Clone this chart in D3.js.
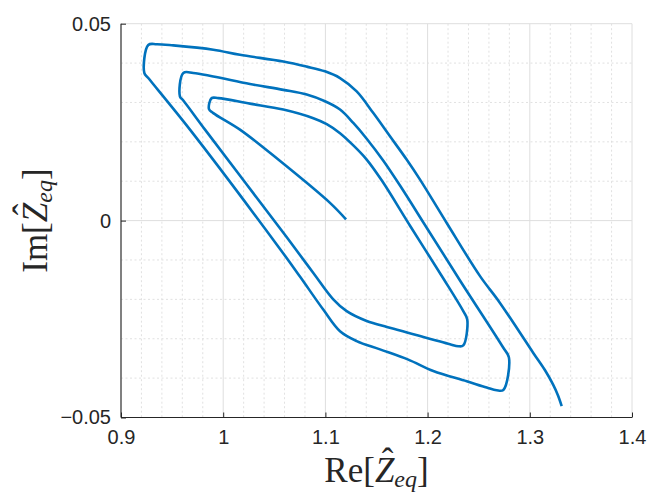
<!DOCTYPE html>
<html>
<head>
<meta charset="utf-8">
<script src="https://cdn.jsdelivr.net/npm/d3@7"></script>
<style>
  html, body { margin: 0; padding: 0; background: #fff; }
  svg { display: block; }
</style>
</head>
<body>
<svg id="chart" width="648" height="492"></svg>
<script>
// ---- data ----
const reZ = [1.1202, 1.1045, 1.0539, 1.0164, 0.9903, 0.9861, 0.9887, 0.9952, 1.0262, 1.0588,
  1.0882, 1.1013, 1.1143, 1.1273, 1.1404, 1.1554, 1.1828, 1.2154, 1.2349, 1.2388,
  1.2349, 1.2300, 1.2219, 1.1730, 1.1600, 1.1404, 1.1208, 1.1077, 1.0882, 1.0624,
  0.9822, 0.9610, 0.9577, 0.9610, 0.9707, 0.9903, 1.0262, 1.0588, 1.0817,
  1.0996, 1.1143, 1.1273, 1.1404, 1.1567, 1.1730, 1.1991, 1.2317, 1.2741, 1.2796,
  1.2741, 1.2676, 1.2578, 1.2383, 1.2056, 1.1811, 1.1534, 1.1306, 1.1143, 1.0979,
  1.0751, 1.0556, 0.9675, 0.9267, 0.9228, 0.9267, 0.9349, 0.9512, 0.9903,
  1.0164, 1.0588, 1.0817, 1.0996, 1.1143, 1.1306, 1.1469, 1.1632, 1.1795, 1.1926,
  1.2187, 1.2513, 1.2708, 1.3034, 1.3149, 1.3227, 1.3276, 1.3312];
const imZ = [0.0003, 0.0045, 0.0155, 0.0231, 0.0273, 0.0283, 0.0311, 0.0311, 0.0297, 0.0282,
  0.0260, 0.0245, 0.0222, 0.0191, 0.0155, 0.0101, -0.0013, -0.0147, -0.0230, -0.0251,
  -0.0317, -0.0319, -0.0314, -0.0279, -0.0270, -0.0255, -0.0230, -0.0200, -0.0133, -0.0043,
  0.0231, 0.0305, 0.0315, 0.0375, 0.0375, 0.0366, 0.0347, 0.0332, 0.0320,
  0.0303, 0.0282, 0.0248, 0.0208, 0.0152, 0.0089, -0.0018, -0.0152, -0.0323, -0.0348,
  -0.0430, -0.0431, -0.0424, -0.0408, -0.0382, -0.0353, -0.0327, -0.0306, -0.0281, -0.0226,
  -0.0142, -0.0072, 0.0231, 0.0362, 0.0375, 0.0446, 0.0448, 0.0445, 0.0434,
  0.0421, 0.0404, 0.0391, 0.0379, 0.0362, 0.0328, 0.0273, 0.0214, 0.0155, 0.0104,
  -0.0006, -0.0141, -0.0209, -0.0336, -0.0380, -0.0416, -0.0444, -0.0471];

const xTicks = [0.9, 1.0, 1.1, 1.2, 1.3, 1.4];
const xTickLabels = ["0.9", "1", "1.1", "1.2", "1.3", "1.4"];
const yTicks = [-0.05, 0, 0.05];
const yTickLabels = ["\u22120.05", "0", "0.05"];
const xMinor = [0.92, 0.94, 0.96, 0.98, 1.02, 1.04, 1.06, 1.08, 1.12, 1.14, 1.16, 1.18,
  1.22, 1.24, 1.26, 1.28, 1.32, 1.34, 1.36, 1.38];
const yMinor = [-0.04, -0.03, -0.02, -0.01, 0.01, 0.02, 0.03, 0.04];

// ---- layout ----
const L = 121, R = 632, T = 23.7, B = 417.5;
const svg = d3.select("#chart");
const x = d3.scaleLinear().domain([0.9, 1.4]).range([L, R]);
const y = d3.scaleLinear().domain([-0.05, 0.05]).range([B, T]);

const g = svg.append("g");

// minor grid
g.selectAll(".xm").data(xMinor).join("line")
  .attr("x1", d => x(d)).attr("x2", d => x(d)).attr("y1", T).attr("y2", B)
  .attr("stroke", "#d9d9d9").attr("stroke-width", 0.8).attr("stroke-dasharray", "2,2.5");
g.selectAll(".ym").data(yMinor).join("line")
  .attr("y1", d => y(d)).attr("y2", d => y(d)).attr("x1", L).attr("x2", R)
  .attr("stroke", "#d9d9d9").attr("stroke-width", 0.8).attr("stroke-dasharray", "2,2.5");
// major grid
g.selectAll(".xg").data(xTicks).join("line")
  .attr("x1", d => x(d)).attr("x2", d => x(d)).attr("y1", T).attr("y2", B)
  .attr("stroke", "#dedede").attr("stroke-width", 1);
g.selectAll(".yg").data(yTicks).join("line")
  .attr("y1", d => y(d)).attr("y2", d => y(d)).attr("x1", L).attr("x2", R)
  .attr("stroke", "#dedede").attr("stroke-width", 1);

// data line
const pts = reZ.map((v, i) => [v, imZ[i]]);
svg.append("path")
  .attr("d", d3.line().x(d => x(d[0])).y(d => y(d[1])).curve(d3.curveCatmullRom.alpha(0.5))(pts))
  .attr("fill", "none").attr("stroke", "#0072BD").attr("stroke-width", 2.6)
  .attr("stroke-linejoin", "round").attr("stroke-linecap", "butt");

// axes (MATLAB style, ticks inward)
const xAxis = d3.axisBottom(x).tickValues(xTicks).tickSize(-5).tickPadding(12)
  .tickFormat((d, i) => xTickLabels[i]);
const yAxis = d3.axisLeft(y).tickValues(yTicks).tickSize(-5).tickPadding(10)
  .tickFormat((d, i) => yTickLabels[i]);

const gx = svg.append("g").attr("transform", `translate(0,${B})`).call(xAxis);
const gy = svg.append("g").attr("transform", `translate(${L},0)`).call(yAxis);
[gx, gy].forEach(a => {
  a.select(".domain").attr("stroke", "#262626").attr("stroke-width", 1.1);
  a.selectAll(".tick line").attr("stroke", "#262626").attr("stroke-width", 1);
  a.selectAll(".tick text").attr("fill", "#262626")
    .style("font-family", "'Liberation Sans', Arial, Helvetica, sans-serif")
    .style("font-size", "20px");
});
gx.select(".domain").attr("d", `M${L},0H${R}`);
gy.select(".domain").attr("d", `M0,${B}V${T}`);

// axis labels (LaTeX-like serif)
const FS = 35;
function addLabel(parent, prefix) {
  const t = parent.append("text").attr("x", 0).attr("y", 0)
    .style("font-family", "'Liberation Serif', 'DejaVu Serif', serif")
    .style("font-size", FS + "px").attr("fill", "#262626").attr("text-anchor", "middle");
  t.append("tspan").text(prefix + "[");
  t.append("tspan").attr("font-style", "italic").text("Z");
  t.append("tspan").attr("font-style", "italic").attr("font-size", "24px").attr("dy", 5).text("eq");
  t.append("tspan").attr("dy", -5).text("]");
  const node = t.node();
  const idx = prefix.length + 1;
  const p0 = node.getStartPositionOfChar(idx);
  const p1 = node.getEndPositionOfChar(idx);
  parent.append("text")
    .attr("x", (p0.x + p1.x) / 2 + 3).attr("y", p0.y - 9)
    .attr("text-anchor", "middle")
    .style("font-family", "'Liberation Serif', 'DejaVu Serif', serif")
    .style("font-size", FS + "px").attr("fill", "#262626")
    .text("\u02C6");
}
addLabel(svg.append("g").attr("transform", `translate(${(L + R) / 2},482)`), "Re");
addLabel(svg.append("g").attr("transform", `translate(47,${(T + B) / 2}) rotate(-90)`), "Im");
</script>
</body>
</html>
